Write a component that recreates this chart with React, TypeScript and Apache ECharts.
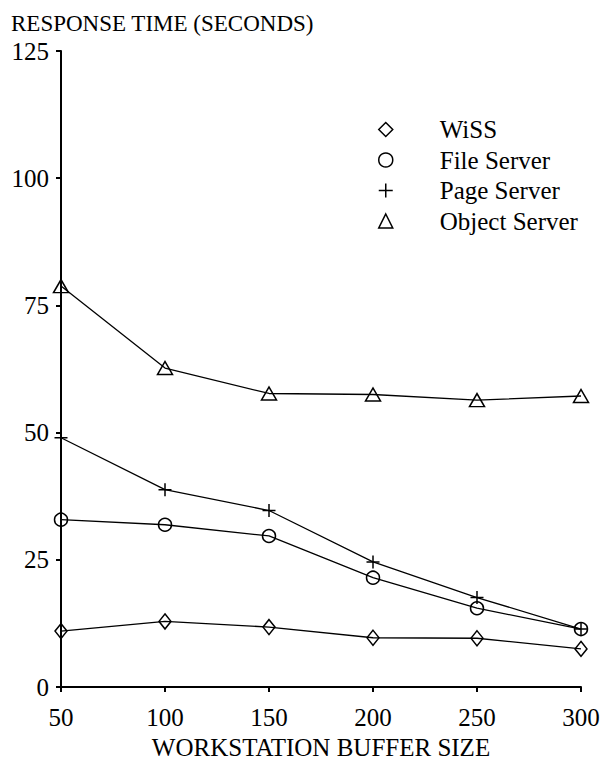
import React, { useEffect, useRef } from "react";
import * as echarts from "echarts";

const bufferSizes = [50, 100, 150, 200, 250, 300];
const wiss = [11, 12.9, 11.8, 9.7, 9.6, 7.5];
const fileServer = [32.9, 31.9, 29.7, 21.5, 15.5, 11.4];
const pageServer = [49, 38.8, 34.7, 24.6, 17.6, 11.4];
const objectServer = [78.8, 62.7, 57.7, 57.5, 56.4, 57.2];
const seriesNames = ["WiSS", "File Server", "Page Server", "Object Server"];
const yTicks = [0, 25, 50, 75, 100, 125];

const FONT = "Liberation Serif";
const PLUS = "path://M0,6L12,6M6,0L6,12";

export default function App() {
  const ref = useRef<HTMLDivElement>(null);
  useEffect(() => {
    if (!ref.current) return;
    const chart = echarts.init(ref.current, null, { renderer: "svg" });
    const hollow = {
      color: "rgba(0,0,0,0)",
      borderColor: "#000",
      borderWidth: 1.5,
    };
    const mk = (name: string, vals: number[], symbol: string, size: any) => ({
      name,
      type: "line",
      data: bufferSizes.map((x, i) => [x, vals[i]]),
      symbol,
      symbolSize: size,
      showAllSymbol: true,
      lineStyle: { color: "#000", width: 1.3 },
      itemStyle: hollow,
      emphasis: { disabled: true },
    });
    chart.setOption({
      animation: false,
      backgroundColor: "#fff",
      textStyle: { fontFamily: FONT },
      title: {
        text: "RESPONSE TIME (SECONDS)",
        left: 6,
        top: 7,
        textStyle: { fontFamily: FONT, fontSize: 23, fontWeight: "normal", color: "#000" },
      },
      legend: {
        orient: "vertical",
        left: 373,
        top: 112,
        itemGap: 5.5,
        itemWidth: 14,
        itemHeight: 14,
        itemStyle: hollow,
        textStyle: {
          fontFamily: FONT,
          fontSize: 25,
          color: "#000",
          padding: [0, 0, 0, 42],
        },
        data: [
          { name: seriesNames[0], icon: "diamond" },
          { name: seriesNames[1], icon: "circle" },
          { name: seriesNames[2], icon: PLUS },
          { name: seriesNames[3], icon: "triangle" },
        ],
      },
      grid: { left: 61, right: 32, top: 51, bottom: 66 },
      xAxis: {
        type: "value",
        min: 50,
        max: 300,
        interval: 50,
        name: "WORKSTATION BUFFER SIZE",
        nameLocation: "middle",
        nameGap: 43,
        nameTextStyle: { fontFamily: FONT, fontSize: 25, color: "#000" },
        axisLine: { onZero: false, lineStyle: { color: "#000", width: 2 } },
        axisTick: { show: true, length: 5, lineStyle: { color: "#000", width: 2 } },
        axisLabel: { fontFamily: FONT, fontSize: 25, color: "#000", margin: 18 },
        splitLine: { show: false },
      },
      yAxis: {
        type: "value",
        min: yTicks[0],
        max: yTicks[yTicks.length - 1],
        interval: 25,
        axisLine: { show: true, lineStyle: { color: "#000", width: 2 } },
        axisTick: { show: true, length: 5, lineStyle: { color: "#000", width: 2 } },
        axisLabel: { fontFamily: FONT, fontSize: 25, color: "#000", margin: 12 },
        splitLine: { show: false },
      },
      series: [
        mk(seriesNames[0], wiss, "diamond", [12, 15]),
        mk(seriesNames[1], fileServer, "circle", 13),
        mk(seriesNames[2], pageServer, PLUS, 13),
        mk(seriesNames[3], objectServer, "triangle", [15, 13]),
      ],
    });
    return () => chart.dispose();
  }, []);
  return (
    <div
      ref={ref}
      style={{ position: "fixed", left: 0, top: 0, width: 613, height: 765, background: "#fff" }}
    />
  );
}
